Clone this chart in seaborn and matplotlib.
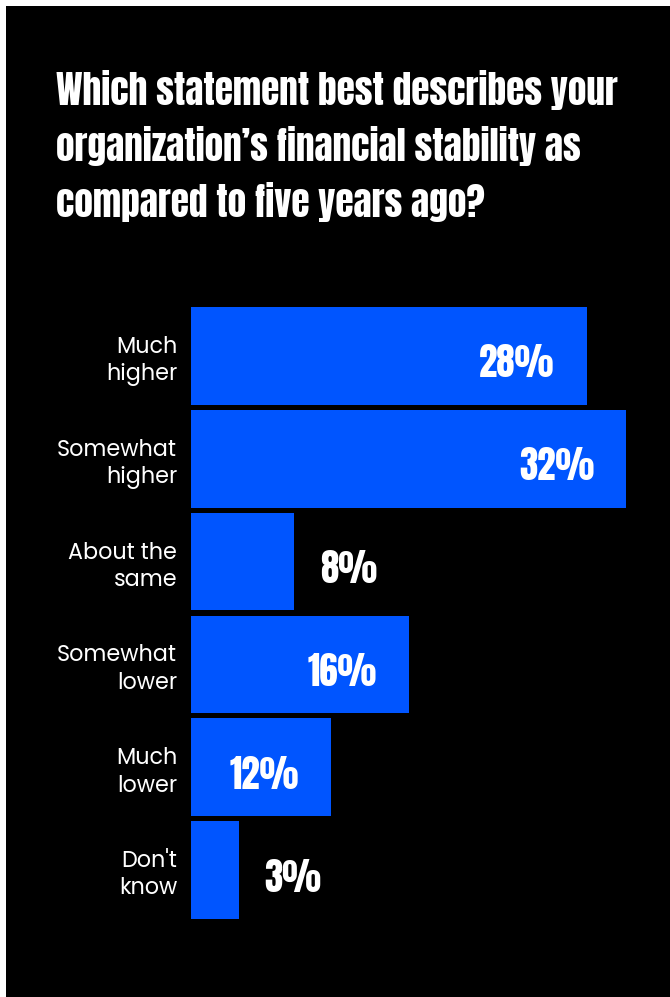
import matplotlib
matplotlib.use("Agg")
import matplotlib.pyplot as plt
import seaborn as sns
import pandas as pd
from matplotlib import font_manager as fm
from matplotlib.patches import Rectangle

categories = ["Much\nhigher", "Somewhat\nhigher", "About the\nsame", "Somewhat\nlower", "Much\nlower", "Don't\nknow"]
values = [29.1, 32.0, 7.6, 16.0, 10.3, 3.5]
labels = ["28%", "32%", "8%", "16%", "12%", "3%"]
title_lines = ["Which statement best describes your",
               "organization\u2019s financial stability as",
               "compared to five years ago?"]

entries = fm.fontManager.ttflist
names = {f.name for f in entries}
def pick(cands, default="DejaVu Sans"):
    for c in cands:
        if c in names:
            return c
    return default
cond = pick(["Anton", "Oswald", "Bebas Neue", "Roboto Condensed", "Liberation Sans Narrow"])

# body font: need a static regular file (variable fonts render as Thin)
body_prop = None
for c in ["Montserrat", "Poppins", "Open Sans"]:
    ok = [f for f in entries if f.name == c and f.style == "normal"
          and f.weight in (400, "normal", "regular") and "[" not in f.fname]
    if ok:
        body_prop = fm.FontProperties(fname=ok[0].fname, size=16)
        break
if body_prop is None:
    body_prop = fm.FontProperties(family="DejaVu Sans", size=15)

sns.set_theme(style="white")
plt.rcParams["font.family"] = ["DejaVu Sans"]

W, H = 670, 997
fig = plt.figure(figsize=(W / 100, H / 100), dpi=100, facecolor="white")
fig.patches.append(Rectangle((6 / W, 0), 1 - 6 / W, 991 / H, transform=fig.transFigure,
                             facecolor="black", edgecolor="none", zorder=-10))

ax = fig.add_axes([191 / W, 1 - 921.5 / H, (W - 191) / W, 617 / H])
ax.set_facecolor("none")
df = pd.DataFrame({"cat": categories, "val": values})
sns.barplot(data=df, y="cat", x="val", orient="h", color="#0055FF", saturation=1,
            width=0.95, linewidth=0, ax=ax)
ax.set_xlim(0, 479 / 13.594)
ax.set_ylim(5.5, -0.5)
for s in ax.spines.values():
    s.set_visible(False)
ax.set_xticks([])
ax.set_xlabel("")
ax.set_ylabel("")
ax.set_yticks(range(len(categories)))
ax.set_yticklabels(categories, fontproperties=body_prop, color="white",
                   ha="right", linespacing=1.25)
ax.tick_params(axis="y", length=0, pad=10)

fig.canvas.draw()
renderer = fig.canvas.get_renderer()

# fit percent-label size so that "28%" is ~75 px wide
probe = fig.text(0, 0, "28%", family=cond, fontsize=30, fontweight="bold")
w = probe.get_window_extent(renderer).width
lab_size = 30 * 75 / w
probe.remove()

for i, (v, lab) in enumerate(zip(values, labels)):
    if v >= 10:
        dx, ha = -32, "right"
    else:
        dx, ha = 26, "left"
    ax.annotate(lab, (v, i), xytext=(dx, -21.5), textcoords="offset pixels",
                ha=ha, va="baseline", color="white", fontsize=lab_size,
                fontweight="bold", family=cond)

# title, fitted so the widest line spans ~562 px
probe = fig.text(0, 0, title_lines[0], family=cond, fontsize=30, fontweight="bold")
w = probe.get_window_extent(renderer).width
t_size = 30 * 562 / w
probe.remove()
for k, line in enumerate(title_lines):
    fig.text(56 / W, 1 - (105 + 56 * k) / H, line, ha="left", va="baseline",
             color="white", fontsize=t_size, fontweight="bold", family=cond)

fig.savefig("out.png", dpi=100, facecolor=fig.get_facecolor())
